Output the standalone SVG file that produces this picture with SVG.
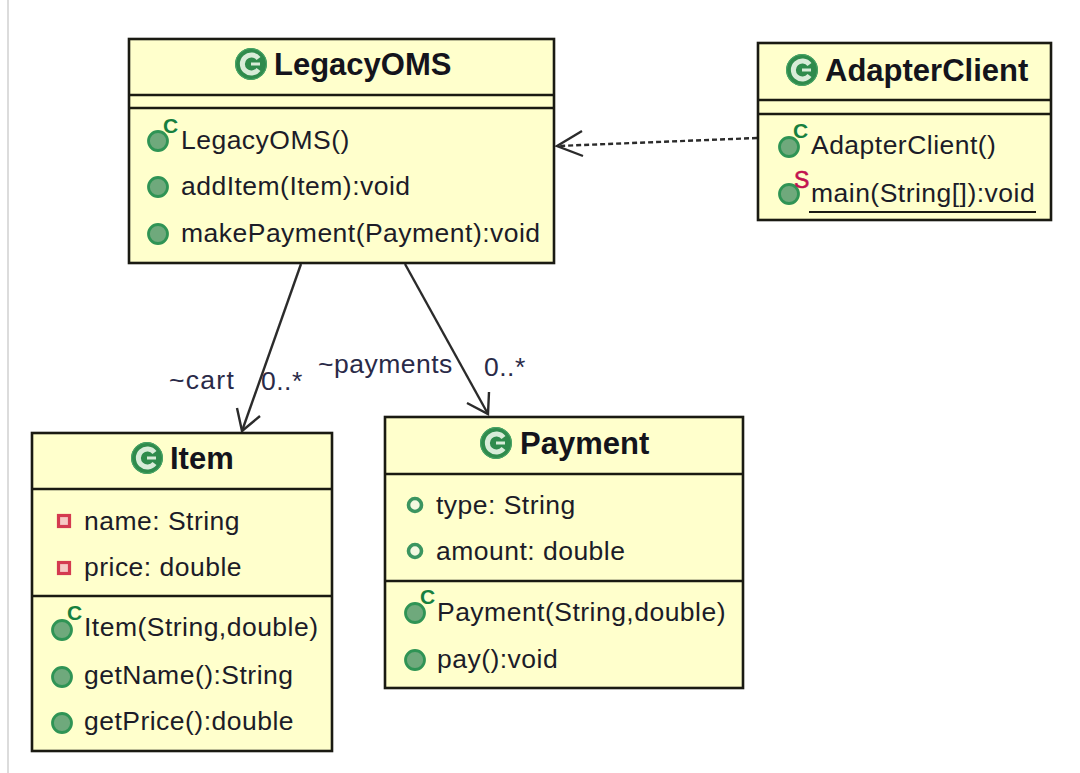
<svg xmlns="http://www.w3.org/2000/svg" width="1080" height="773" viewBox="0 0 1080 773">
<style>
text{font-family:"Liberation Sans",Arial,sans-serif;fill:#1c1c28}
.m{font-size:26.5px;letter-spacing:.48px}
.t{font-size:31px;font-weight:bold;fill:#14141c}
.b{fill:#ffffcc;stroke:#1a1a12;stroke-width:2.6}
.d{stroke:#1a1a12;stroke-width:2.6;fill:none}
.l{font-size:26.5px;letter-spacing:.5px;fill:#2a2a48}
.c{stroke:#2b2b2b;stroke-width:2.4;fill:none}
.g{fill:#6fa97c;stroke:#2f9455;stroke-width:2.8}
.o{fill:#f4f8e0;stroke:#3b9560;stroke-width:3.6}
.h{font-size:21px;font-weight:bold;fill:#16803f}
.s{font-size:23px;fill:#c2134f;stroke:#c2134f;stroke-width:.6}
.p{fill:#f6c9c4;stroke:#d43a50;stroke-width:3.2}
</style>
<defs>
<g id="ci"><circle r="16" fill="#2f8b4c"/><circle r="15.5" fill="none" stroke="#4aa76a" stroke-width="1"/><path d="M7.5 -5.5A9 9 0 1 0 7.5 5.5" fill="none" stroke="#d8ecd8" stroke-width="5"/><path d="M0 0H9" stroke="#d8ecd8" stroke-width="3"/></g>
<circle id="dot" r="9.5" class="g"/>
<circle id="ring" r="6.5" class="o"/>
<rect id="pv" x="-5.5" y="-5.5" width="11" height="11" class="p"/>
</defs>
<rect x="7" y="0" width="2" height="773" fill="#dcdcdc"/>
<g id="connectors">
<path class="c" stroke-dasharray="5 3" d="M757 138L558 146"/>
<path class="c" d="M582 131L557 146L583 156"/>
<path class="c" d="M301 264L242 431"/>
<path class="c" d="M237 408L242 431L260 416"/>
<path class="c" d="M405 264L488 414"/>
<path class="c" d="M467 403L488 414L489 392"/>
<text class="l" style="letter-spacing:1.3px" x="169" y="389">~cart</text>
<text class="l" x="261" y="390">0..*</text>
<text class="l" x="318" y="373">~payments</text>
<text class="l" x="484" y="376">0..*</text>
</g>
<g id="LegacyOMS">
<rect class="b" x="129" y="39" width="425" height="224"/>
<path class="d" d="M129 95H554M129 108H554"/>
<use href="#ci" x="251" y="64"/>
<text class="t" x="274" y="75">LegacyOMS</text>
<use href="#dot" x="158" y="141"/><text class="h" x="163" y="133">C</text>
<text class="m" x="181" y="149">LegacyOMS()</text>
<use href="#dot" x="158" y="187"/>
<text class="m" x="181" y="195">addItem(Item):void</text>
<use href="#dot" x="158" y="234"/>
<text class="m" x="181" y="242">makePayment(Payment):void</text>
</g>
<g id="AdapterClient">
<rect class="b" x="758" y="43" width="293" height="177"/>
<path class="d" d="M758 100H1051M758 114H1051"/>
<use href="#ci" x="802" y="70"/>
<text class="t" x="825" y="81">AdapterClient</text>
<use href="#dot" x="789" y="147"/><text class="h" x="793" y="138">C</text>
<text class="m" x="811" y="154">AdapterClient()</text>
<use href="#dot" x="789" y="194"/><text class="s" x="794" y="188">S</text>
<text class="m" x="811" y="202">main(String[]):void</text>
<path d="M809 212H1036" stroke="#1a1a12" stroke-width="2.2"/>
</g>
<g id="Item">
<rect class="b" x="32" y="433" width="300" height="318"/>
<path class="d" d="M32 489H332M32 596H332"/>
<use href="#ci" x="147" y="458"/>
<text class="t" x="170" y="469">Item</text>
<use href="#pv" x="64" y="521"/>
<text class="m" x="84" y="530">name: String</text>
<use href="#pv" x="64" y="568"/>
<text class="m" x="84" y="576">price: double</text>
<use href="#dot" x="62" y="630"/><text class="h" x="67" y="620">C</text>
<text class="m" x="84" y="636">Item(String,double)</text>
<use href="#dot" x="62" y="677"/>
<text class="m" x="84" y="684">getName():String</text>
<use href="#dot" x="62" y="723"/>
<text class="m" x="84" y="730">getPrice():double</text>
</g>
<g id="Payment">
<rect class="b" x="385" y="417" width="358" height="271"/>
<path class="d" d="M385 474H743M385 581H743"/>
<use href="#ci" x="496" y="443"/>
<text class="t" x="520" y="454">Payment</text>
<use href="#ring" x="415" y="505"/>
<text class="m" x="436" y="514">type: String</text>
<use href="#ring" x="415" y="551"/>
<text class="m" x="436" y="560">amount: double</text>
<use href="#dot" x="415" y="613"/><text class="h" x="420" y="604">C</text>
<text class="m" x="437" y="621">Payment(String,double)</text>
<use href="#dot" x="415" y="660"/>
<text class="m" x="437" y="668">pay():void</text>
</g>
</svg>
